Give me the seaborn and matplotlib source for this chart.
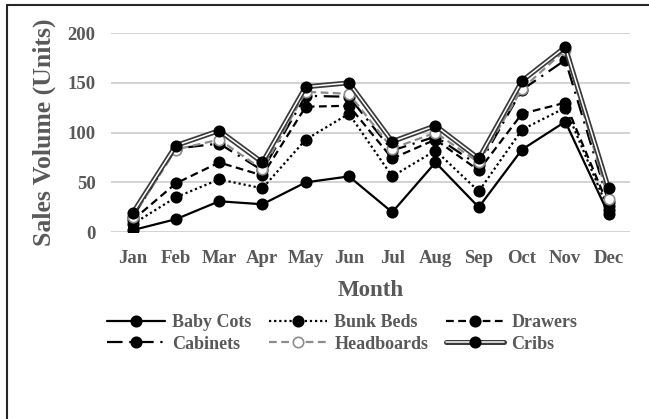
import pandas as pd
import matplotlib
matplotlib.use("Agg")
import matplotlib.pyplot as plt
import matplotlib.patheffects as pe
from matplotlib.lines import Line2D
from matplotlib.legend_handler import HandlerTuple
import seaborn as sns

# Monthly sales volume (units) per product
months = ["Jan", "Feb", "Mar", "Apr", "May", "Jun", "Jul", "Aug", "Sep", "Oct", "Nov", "Dec"]
baby_cots = [2, 13, 31, 28, 50, 56, 20, 70, 25, 83, 111, 18]
bunk_beds = [8, 35, 53, 44, 93, 119, 56, 82, 41, 103, 125, 22]
drawers = [12, 49, 70, 57, 126, 127, 74, 93, 62, 119, 130, 26]
cabinets = [15, 84, 89, 62, 137, 136, 82, 96, 67, 143, 173, 30]
headboards = [15, 83, 93, 63, 141, 139, 84, 100, 70, 144, 183, 33]
cribs = [19, 87, 102, 70, 146, 150, 91, 107, 74, 152, 186, 44]

series = {
    "Baby Cots": baby_cots,
    "Bunk Beds": bunk_beds,
    "Drawers": drawers,
    "Cabinets": cabinets,
    "Headboards": headboards,
    "Cribs": cribs,
}

df = pd.DataFrame([
    {"Month": m, "Product": name, "Sales": v}
    for name, vals in series.items()
    for m, v in zip(months, vals)
])
df["pos"] = df["Month"].map({m: i for i, m in enumerate(months)})

sns.set_theme(style="white")
plt.rcParams["font.family"] = ["Liberation Serif", "DejaVu Serif"]
plt.rcParams["font.weight"] = "bold"

text_col = "#595959"

styles = {
    "Baby Cots": dict(color="black", ls="-", mfc="black", mec="black"),
    "Bunk Beds": dict(color="black", ls=(0, (1, 1.3)), mfc="black", mec="black"),
    "Drawers": dict(color="black", ls=(0, (3.5, 2)), mfc="black", mec="black"),
    "Cabinets": dict(color="black", ls=(0, (7, 3, 1, 3)), mfc="black", mec="black"),
    "Headboards": dict(color="#8c8c8c", ls=(0, (3.5, 2)), mfc="white", mec="#8c8c8c"),
    "Cribs": dict(color="white", ls="-", mfc="black", mec="black"),
}

fig = plt.figure(figsize=(6.49, 4.19), dpi=100)
ax = fig.add_axes([0.171, 0.446, 0.800, 0.475])

handles = {}
for name in series:
    st = styles[name]
    sub = df[df["Product"] == name]
    sns.lineplot(data=sub, x="pos", y="Sales", ax=ax, color=st["color"],
                 linewidth=1.6, sort=False)
    line = ax.get_lines()[-1]
    line.set_linestyle(st["ls"])
    if name == "Cribs":
        # double line: dark outline with white core, markers drawn separately
        line.set_linewidth(1.1)
        line.set_path_effects([pe.Stroke(linewidth=3.6, foreground="#3a3a3a"), pe.Normal()])
        mk, = ax.plot(sub["pos"], sub["Sales"], ls="none", marker="o", ms=7.5,
                      mfc="black", mec="black", mew=1.2)
        handles[name] = (line, mk)
    else:
        line.set_marker("o")
        line.set_markersize(7.5)
        line.set_markerfacecolor(st["mfc"])
        line.set_markeredgecolor(st["mec"])
        line.set_markeredgewidth(1.2)
        handles[name] = line

ax.set_xlim(-0.5, 11.5)
ax.set_ylim(0, 200)
ax.set_xticks(range(len(months)))
ax.set_xticklabels(months)
ax.set_yticks([0, 50, 100, 150, 200])
ax.yaxis.grid(True, color="#d0d0d0", linewidth=1.3)
ax.xaxis.grid(False)
for s in ax.spines.values():
    s.set_visible(False)
ax.tick_params(axis="both", length=0, labelsize=13.5, labelcolor=text_col)
ax.tick_params(axis="x", pad=13)
ax.tick_params(axis="y", pad=11)
for lab in ax.get_xticklabels() + ax.get_yticklabels():
    lab.set_fontweight("bold")

ax.set_xlabel("Month", fontsize=16.5, fontweight="bold", color=text_col, labelpad=9)
ax.set_ylabel("Sales Volume (Units)", fontsize=18.5, fontweight="bold", color=text_col, labelpad=8)

# row-wise legend order for a 3-column layout
order = ["Baby Cots", "Cabinets", "Bunk Beds", "Headboards", "Drawers", "Cribs"]
ax.legend([handles[n] for n in order], order, ncol=3, loc="upper center",
          bbox_to_anchor=(0.445, -0.33), frameon=False,
          handlelength=3.2, columnspacing=1.0, labelspacing=0.25, handletextpad=0.4,
          labelcolor=text_col, prop={"weight": "bold", "size": 13},
          handler_map={tuple: HandlerTuple(ndivide=1)})

# outer border (top and left edges only visible)
fig.add_artist(Line2D([7 / 649, 1], [1 - 5 / 419, 1 - 5 / 419], transform=fig.transFigure,
                      color="#262626", linewidth=1.5))
fig.add_artist(Line2D([7 / 649, 7 / 649], [0, 1 - 5 / 419], transform=fig.transFigure,
                      color="#262626", linewidth=1.5))

fig.savefig("out.png", dpi=100)
